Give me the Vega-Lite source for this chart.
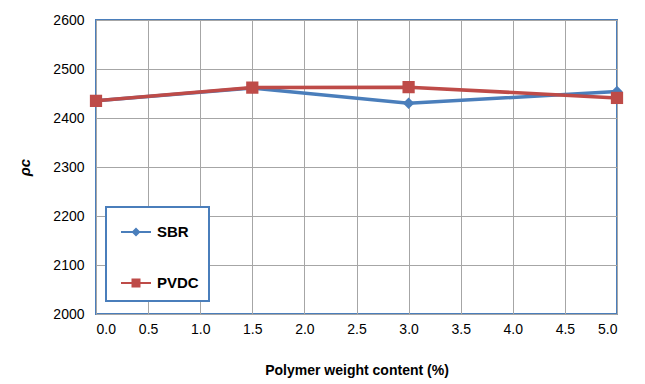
{
  "$schema": "https://vega.github.io/schema/vega-lite/v6.json",
  "width": 521,
  "height": 294,
  "autosize": {"type": "none"},
  "padding": {"left": 96, "top": 20, "right": 28, "bottom": 70},
  "background": "white",
  "config": {
    "font": "Liberation Sans",
    "view": {"stroke": "#4a7ebb", "strokeWidth": 2},
    "legend": {"strokeWidth": 2},
    "axis": {
      "domain": false,
      "ticks": false,
      "gridColor": "#a6a6a6",
      "gridWidth": 1,
      "gridOpacity": 1,
      "labelFont": "Liberation Sans",
      "labelFontSize": 14,
      "labelColor": "#000",
      "titleFont": "Liberation Sans",
      "titleFontSize": 14,
      "titleColor": "#000",
      "titleFontWeight": "bold"
    }
  },
  "data": {
    "values": [
      {"x": 0.0, "y": 2435, "series": "SBR"},
      {"x": 1.5, "y": 2461, "series": "SBR"},
      {"x": 3.0, "y": 2430, "series": "SBR"},
      {"x": 5.0, "y": 2454, "series": "SBR"},
      {"x": 0.0, "y": 2435, "series": "PVDC"},
      {"x": 1.5, "y": 2462, "series": "PVDC"},
      {"x": 3.0, "y": 2463, "series": "PVDC"},
      {"x": 5.0, "y": 2441, "series": "PVDC"}
    ]
  },
  "encoding": {
    "x": {
      "field": "x",
      "type": "quantitative",
      "scale": {"domain": [0, 5], "nice": false, "zero": false},
      "axis": {
        "values": [0, 0.5, 1, 1.5, 2, 2.5, 3, 3.5, 4, 4.5, 5],
        "format": ".1f",
        "labelPadding": 8,
        "title": "Polymer weight content (%)",
        "titlePadding": 27
      }
    },
    "y": {
      "field": "y",
      "type": "quantitative",
      "scale": {"domain": [2000, 2600], "nice": false, "zero": false},
      "axis": {
        "values": [2000, 2100, 2200, 2300, 2400, 2500, 2600],
        "format": "d",
        "labelPadding": 12,
        "title": "ρc",
        "titleFontStyle": "italic",
        "titleFontSize": 15,
        "titlePadding": 20
      }
    }
  },
  "layer": [
    {
      "mark": {"type": "line", "strokeWidth": 3.5},
      "encoding": {
        "order": {"field": "x"},
        "color": {
          "field": "series",
          "type": "nominal",
          "scale": {"domain": ["SBR", "PVDC"], "range": ["#4a7ebb", "#be4b48"]},
          "legend": null
        }
      }
    },
    {
      "mark": {"type": "point", "filled": true, "opacity": 1},
      "encoding": {
        "color": {
          "field": "series",
          "type": "nominal",
          "scale": {"domain": ["SBR", "PVDC"], "range": ["#4a7ebb", "#be4b48"]},
          "legend": null
        },
        "shape": {
          "field": "series",
          "type": "nominal",
          "scale": {"domain": ["SBR", "PVDC"], "range": ["diamond", "square"]},
          "legend": null
        },
        "size": {
          "field": "series",
          "type": "nominal",
          "scale": {"domain": ["SBR", "PVDC"], "range": [130, 150]},
          "legend": null
        }
      }
    },
    {
      "mark": {"type": "point", "filled": true, "opacity": 0},
      "encoding": {
        "fill": {
          "field": "series",
          "type": "nominal",
          "title": null,
          "scale": {"domain": ["SBR", "PVDC"], "range": ["#4a7ebb", "#be4b48"]},
          "legend": {
            "orient": "none",
            "legendX": 10,
            "legendY": 187
          }
        },
        "shape": {
          "field": "series",
          "type": "nominal",
          "title": null,
          "scale": {
            "domain": ["SBR", "PVDC"],
            "range": [
              "M-1,-0.06H1V0.06H-1Z M0,-0.3L0.3,0L0,0.3L-0.3,0Z",
              "M-1,-0.06H1V0.06H-1Z M-0.3,-0.3H0.3V0.3H-0.3Z"
            ]
          },
          "legend": {
            "orient": "none",
            "legendX": 10,
            "legendY": 187,
            "strokeColor": "#4a7ebb",
            "fillColor": "white",
            "padding": 10,
            "symbolSize": 900,
            "symbolOpacity": 1,
            "symbolStrokeWidth": 0,
            "labelFontSize": 15,
            "labelFontWeight": "bold",
            "labelFont": "Liberation Sans",
            "labelColor": "#000",
            "rowPadding": 28,
            "labelOffset": 6,
            "symbolOffset": 5
          }
        }
      }
    }
  ],
  "resolve": {
    "scale": {"shape": "independent", "fill": "independent"},
    "legend": {"shape": "independent", "fill": "independent"}
  }
}
